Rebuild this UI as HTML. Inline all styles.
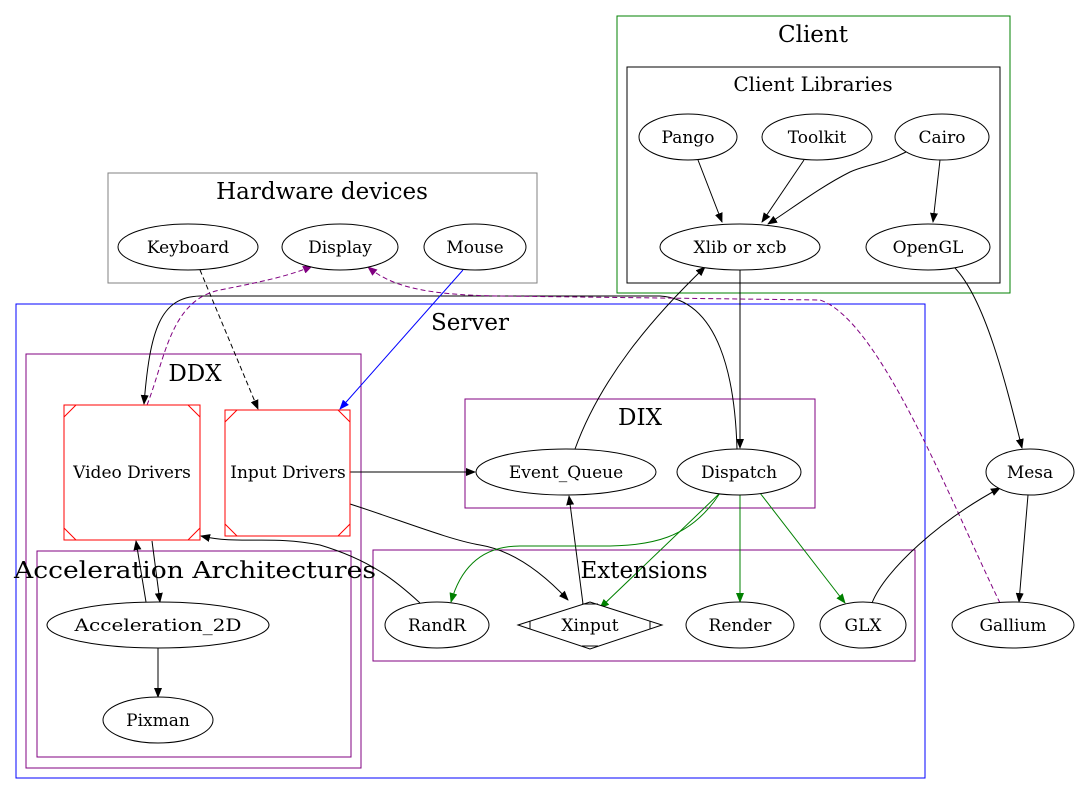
<!DOCTYPE html>
<html><head><meta charset="utf-8"><style>html,body{margin:0;padding:0;background:#fff}svg{display:block}</style></head>
<body>
<svg width="1084" height="795" viewBox="0 0 1084 795" xmlns="http://www.w3.org/2000/svg" font-family="'DejaVu Serif', 'Liberation Serif', serif">
<defs>
<marker id="k" markerWidth="10" markerHeight="8" refX="9" refY="4" orient="auto" markerUnits="userSpaceOnUse"><path d="M0,0 L10,4 L0,8 z" fill="#000"/></marker>
<marker id="g" markerWidth="10" markerHeight="8" refX="9" refY="4" orient="auto" markerUnits="userSpaceOnUse"><path d="M0,0 L10,4 L0,8 z" fill="green"/></marker>
<marker id="b" markerWidth="10" markerHeight="8" refX="9" refY="4" orient="auto" markerUnits="userSpaceOnUse"><path d="M0,0 L10,4 L0,8 z" fill="blue"/></marker>
<marker id="p" markerWidth="10" markerHeight="8" refX="9" refY="4" orient="auto" markerUnits="userSpaceOnUse"><path d="M0,0 L10,4 L0,8 z" fill="purple"/></marker>
</defs>
<g fill="none" stroke-width="1">
<rect x="617" y="16" width="393" height="277" stroke="green"/>
<rect x="627" y="67" width="373" height="216" stroke="#000"/>
<rect x="108" y="173" width="429" height="110" stroke="gray"/>
<rect x="16" y="304" width="909" height="474" stroke="blue"/>
<rect x="26" y="354" width="335" height="414" stroke="purple"/>
<rect x="37" y="551" width="314" height="206" stroke="purple"/>
<rect x="465" y="399" width="350" height="109" stroke="purple"/>
<rect x="373" y="550" width="542" height="111" stroke="purple"/>
</g>
<g fill="none" stroke="#000">
<path d="M698,160 L722,222" marker-end="url(#k)"/>
<path d="M804,160 L762,222" marker-end="url(#k)"/>
<path d="M906,152 C880,165 865,165 850,172 C820,187 790,210 768,224" marker-end="url(#k)"/>
<path d="M940,160 L933,222" marker-end="url(#k)"/>
<path d="M955,268 C985,300 1005,380 1022,448" marker-end="url(#k)"/>
<path d="M740,270 L740,448" marker-end="url(#k)"/>
<path d="M575,449 C600,380 650,320 705,267" marker-end="url(#k)"/>
<path d="M737,449 C735,380 720,300 660,296 L200,296 C160,297 150,330 144,404" marker-end="url(#k)"/>
<path d="M200,270 L258,409" stroke-dasharray="5,3" marker-end="url(#k)"/>
<path d="M463,270 L340,409" stroke="blue" marker-end="url(#b)"/>
<path d="M147,405 C165,360 170,300 220,290 C260,282 290,276 312,266" stroke="purple" stroke-dasharray="5,3" marker-end="url(#p)"/>
<path d="M1000,603 C950,500 880,320 820,300 L500,296 C420,295 390,285 368,267" stroke="purple" stroke-dasharray="5,3" marker-end="url(#p)"/>
<path d="M350,472 L475,472" marker-end="url(#k)"/>
<path d="M350,504 C400,520 450,540 480,545 C510,550 540,570 568,600" marker-end="url(#k)"/>
<path d="M583,604 L569,496" marker-end="url(#k)"/>
<path d="M720,493 C690,540 650,546 600,546 L520,546 C480,546 460,570 451,602" stroke="green" marker-end="url(#g)"/>
<path d="M720,493 L600,608" stroke="green" marker-end="url(#g)"/>
<path d="M740,495 L740,602" stroke="green" marker-end="url(#g)"/>
<path d="M760,493 L845,603" stroke="green" marker-end="url(#g)"/>
<path d="M872,603 C885,570 940,520 1000,488" marker-end="url(#k)"/>
<path d="M1028,495 L1019,602" marker-end="url(#k)"/>
<path d="M420,603 C395,580 370,560 320,545 C270,535 240,545 201,536" marker-end="url(#k)"/>
<path d="M146,602 L136,541" marker-end="url(#k)"/>
<path d="M152,541 L160,602" marker-end="url(#k)"/>
<path d="M158,648 L158,697" marker-end="url(#k)"/>
</g>
<g text-anchor="middle" font-size="23" fill="#000">
<text x="813" y="42">Client</text>
<text x="322" y="199">Hardware devices</text>
<text x="470" y="330">Server</text>
<text x="195" y="381">DDX</text>
<text x="640" y="425">DIX</text>
<text x="195" y="578" textLength="362" lengthAdjust="spacingAndGlyphs">Acceleration Architectures</text>
<text x="644" y="578">Extensions</text>
<text x="813" y="91" font-size="20">Client Libraries</text>
</g>
<g fill="#fff" stroke="#000">
<ellipse cx="688" cy="137" rx="49" ry="23"/>
<ellipse cx="817" cy="137" rx="55" ry="23"/>
<ellipse cx="942" cy="137" rx="47" ry="23"/>
<ellipse cx="740" cy="247" rx="80" ry="23"/>
<ellipse cx="928" cy="247" rx="62" ry="23"/>
<ellipse cx="188" cy="247" rx="70" ry="23"/>
<ellipse cx="340" cy="247" rx="58" ry="23"/>
<ellipse cx="475" cy="247" rx="51" ry="23"/>
<ellipse cx="566" cy="472" rx="90" ry="23"/>
<ellipse cx="739" cy="472" rx="62" ry="23"/>
<ellipse cx="437" cy="625" rx="52" ry="23"/>
<ellipse cx="740" cy="625" rx="54" ry="23"/>
<ellipse cx="863" cy="625" rx="43" ry="23"/>
<ellipse cx="1030" cy="472" rx="44" ry="23"/>
<ellipse cx="1013" cy="625" rx="61" ry="23"/>
<ellipse cx="158" cy="625" rx="111" ry="23"/>
<ellipse cx="158" cy="720" rx="55" ry="23"/>
<path d="M518,625 L590,602 L662,625 L590,649 Z"/>
<path d="M530,621 L530,629 M650,621 L650,629 M582,604 L598,604 M582,646 L598,646" fill="none"/>
</g>
<g fill="none" stroke="red">
<rect x="64" y="405" width="136" height="135"/>
<path d="M64,417 L76,405 M188,405 L200,417 M64,528 L76,540 M188,540 L200,528"/>
<rect x="225" y="410" width="125" height="126"/>
<path d="M225,422 L237,410 M338,410 L350,422 M225,524 L237,536 M338,536 L350,524"/>
</g>
<g text-anchor="middle" font-size="17" fill="#000">
<text x="688" y="143">Pango</text>
<text x="817" y="143">Toolkit</text>
<text x="942" y="143">Cairo</text>
<text x="740" y="253">Xlib or xcb</text>
<text x="928" y="253">OpenGL</text>
<text x="188" y="253">Keyboard</text>
<text x="340" y="253">Display</text>
<text x="475" y="253">Mouse</text>
<text x="566" y="478">Event_Queue</text>
<text x="739" y="478">Dispatch</text>
<text x="437" y="631">RandR</text>
<text x="590" y="631">Xinput</text>
<text x="740" y="631">Render</text>
<text x="863" y="631">GLX</text>
<text x="1030" y="478">Mesa</text>
<text x="1013" y="631">Gallium</text>
<text x="158" y="631" textLength="167" lengthAdjust="spacingAndGlyphs">Acceleration_2D</text>
<text x="158" y="726">Pixman</text>
<text x="132" y="478">Video Drivers</text>
<text x="288" y="478">Input Drivers</text>
</g>
</svg>
</body></html>
